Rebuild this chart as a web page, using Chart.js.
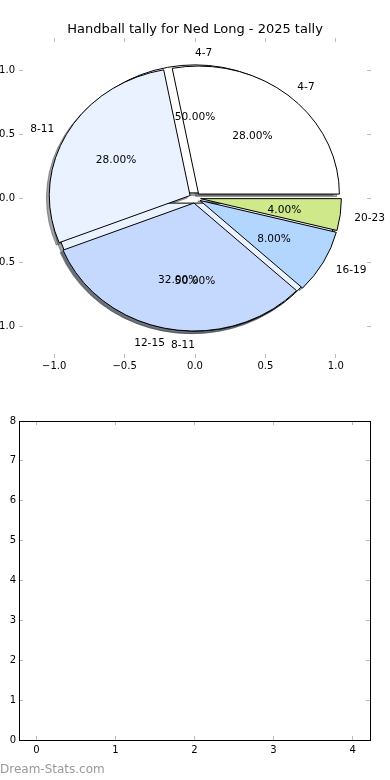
<!DOCTYPE html>
<html>
<head>
<meta charset="utf-8">
<script src="https://cdn.jsdelivr.net/npm/chart.js@4/dist/chart.umd.min.js"></script>
<style>
html, body { margin: 0; padding: 0; width: 390px; height: 780px; overflow: hidden; background: #fff; }
body { position: relative; }
.box { position: absolute; left: -40px; width: 470px; height: 380px; }
#pieBox { top: 0; }
#emptyBox { top: 400px; }
#mark { position: absolute; left: 0; top: 762px; font: 12px "DejaVu Sans"; color: #9a9a9a; }
</style>
</head>
<body>
<div class="box" id="pieBox"><canvas id="pieChart" width="470" height="380"></canvas></div>
<div class="box" id="emptyBox"><canvas id="emptyChart" width="470" height="380"></canvas></div>
<div id="mark">Dream-Stats.com</div>
<script>
// data
const pieTitle = "Handball tally for Ned Long - 2025 tally";
const splitGroups = ["4-7", "8-11"];
const splitShares = [50, 50];
const ageGroups = ["4-7", "8-11", "12-15", "16-19", "20-23"];
const groupShares = [28, 28, 32, 8, 4];
const sliceColors = ["#ffffff", "#eaf1ff", "#c5d9ff", "#b3d6ff", "#cfe98a"];
const pieTicks = [-1, -0.5, 0, 0.5, 1];
const emptyXTicks = [0, 1, 2, 3, 4];
const emptyYTicks = [0, 1, 2, 3, 4, 5, 6, 7, 8];

const explodeBy = 0.04;
const labelDistance = 1.1;
const pctDistance = 0.6;
const shadowShift = -0.02;
const tickGray = "#bbbbbb";

Chart.defaults.font.family = '"DejaVu Sans", sans-serif';
Chart.defaults.font.size = 10;
Chart.defaults.color = "#000";

function buildWedges(labels, values) {
    const total = values.reduce((a, b) => a + b, 0);
    let start = 0;
    return values.map((v, i) => {
        const sweep = 360 * v / total;
        const w = {
            label: labels[i],
            pct: 100 * v / total,
            t1: start,
            t2: start + sweep,
            mid: (start + sweep / 2) * Math.PI / 180,
            color: sliceColors[i % sliceColors.length]
        };
        start += sweep;
        return w;
    });
}

function wedgePath(ctx, xs, ys, cx, cy, t1, t2) {
    const px = xs.getPixelForValue(cx), py = ys.getPixelForValue(cy);
    const rx = xs.getPixelForValue(cx + 1) - px;
    const ry = py - ys.getPixelForValue(cy + 1);
    ctx.beginPath();
    ctx.moveTo(px, py);
    ctx.ellipse(px, py, rx, ry, 0, -t1 * Math.PI / 180, -t2 * Math.PI / 180, true);
    ctx.closePath();
}

function shade(hex) {
    const n = parseInt(hex.slice(1), 16);
    const r = (n >> 16) & 255, g = (n >> 8) & 255, b = n & 255;
    return `rgba(${Math.round(r * 0.3)}, ${Math.round(g * 0.3)}, ${Math.round(b * 0.3)}, 0.5)`;
}

const piePlugin = {
    id: "pieLayers",
    afterDatasetsDraw(chart) {
        const ctx = chart.ctx;
        const xs = chart.scales.x, ys = chart.scales.y;
        // second pie is drawn on top of the first one
        const layers = [buildWedges(splitGroups, splitShares), buildWedges(ageGroups, groupShares)];
        ctx.save();
        ctx.lineWidth = 1;
        ctx.lineJoin = "miter";

        // shadows go under every wedge
        layers.forEach(ws => ws.forEach(w => {
            const cx = explodeBy * Math.cos(w.mid) + shadowShift;
            const cy = explodeBy * Math.sin(w.mid) + shadowShift;
            wedgePath(ctx, xs, ys, cx, cy, w.t1, w.t2);
            ctx.fillStyle = shade(w.color);
            ctx.strokeStyle = shade(w.color);
            ctx.fill();
            ctx.stroke();
        }));

        layers.forEach(ws => ws.forEach(w => {
            const cx = explodeBy * Math.cos(w.mid);
            const cy = explodeBy * Math.sin(w.mid);
            wedgePath(ctx, xs, ys, cx, cy, w.t1, w.t2);
            ctx.fillStyle = w.color;
            ctx.strokeStyle = "#000";
            ctx.fill();
            ctx.stroke();
        }));

        // matplotlib centres the whole text box, a bit lower than canvas "middle"
        const drop = 1.5;
        ctx.fillStyle = "#000";
        ctx.font = '10.6px "DejaVu Sans"';
        ctx.textBaseline = "middle";
        layers.forEach(ws => ws.forEach(w => {
            const lx = (explodeBy + labelDistance) * Math.cos(w.mid);
            const ly = (explodeBy + labelDistance) * Math.sin(w.mid);
            ctx.textAlign = lx > 0 ? "left" : "right";
            ctx.fillText(w.label, xs.getPixelForValue(lx), ys.getPixelForValue(ly) + drop);

            const qx = (explodeBy + pctDistance) * Math.cos(w.mid);
            const qy = (explodeBy + pctDistance) * Math.sin(w.mid);
            ctx.textAlign = "center";
            ctx.fillText(w.pct.toFixed(2) + "%", xs.getPixelForValue(qx), ys.getPixelForValue(qy) + drop);
        }));
        ctx.restore();
    }
};

function fmtTick(v) {
    return (v < 0 ? "\u2212" : "") + Math.abs(v).toFixed(1);
}

// one axis side with matplotlib style inward ticks
function side(axis, position, min, max, tickValues, size, opts) {
    return {
        type: "linear",
        axis: axis,
        position: position,
        min: min,
        max: max,
        afterBuildTicks: s => { s.ticks = tickValues.map(v => ({ value: v })); },
        afterFit: s => {
            if (axis === "x") s.height = size; else s.width = size;
        },
        border: { display: opts.border, color: "#000", width: 1 },
        grid: { drawOnChartArea: false, tickLength: -4, color: tickGray, lineWidth: 1 },
        ticks: {
            display: opts.labels,
            padding: opts.padding || 0,
            color: "#000",
            font: { size: 10 },
            maxRotation: 0,
            autoSkip: false,
            callback: opts.format || (v => v)
        }
    };
}

new Chart(document.getElementById("pieChart"), {
    type: "scatter",
    data: { datasets: [] },
    plugins: [piePlugin],
    options: {
        responsive: false,
        animation: false,
        layout: { padding: 0 },
        plugins: {
            legend: { display: false },
            tooltip: { enabled: false },
            title: {
                display: true,
                text: pieTitle,
                color: "#000",
                font: { size: 13, weight: "normal" },
                padding: { top: 22.2, bottom: 0.2 }
            }
        },
        scales: {
            x: side("x", "bottom", -1.25, 1.25, pieTicks, 22, { border: false, labels: true, padding: 6, format: fmtTick }),
            x2: side("x", "top", -1.25, 1.25, pieTicks, 0, { border: false, labels: false }),
            y: side("y", "left", -1.25, 1.25, pieTicks, 59, { border: false, labels: true, padding: 8, format: fmtTick }),
            y2: side("y", "right", -1.25, 1.25, pieTicks, 59, { border: false, labels: false })
        }
    }
});

new Chart(document.getElementById("emptyChart"), {
    type: "scatter",
    data: { datasets: [] },
    options: {
        responsive: false,
        animation: false,
        layout: { padding: 0 },
        plugins: {
            legend: { display: false },
            tooltip: { enabled: false }
        },
        scales: {
            x: side("x", "bottom", -0.22, 4.22, emptyXTicks, 40, { border: true, labels: true, padding: 8 }),
            x2: side("x", "top", -0.22, 4.22, emptyXTicks, 21, { border: true, labels: false }),
            y: side("y", "left", 0, 8, emptyYTicks, 59, { border: true, labels: true, padding: 7 }),
            y2: side("y", "right", 0, 8, emptyYTicks, 60, { border: true, labels: false })
        }
    }
});
</script>
</body>
</html>
